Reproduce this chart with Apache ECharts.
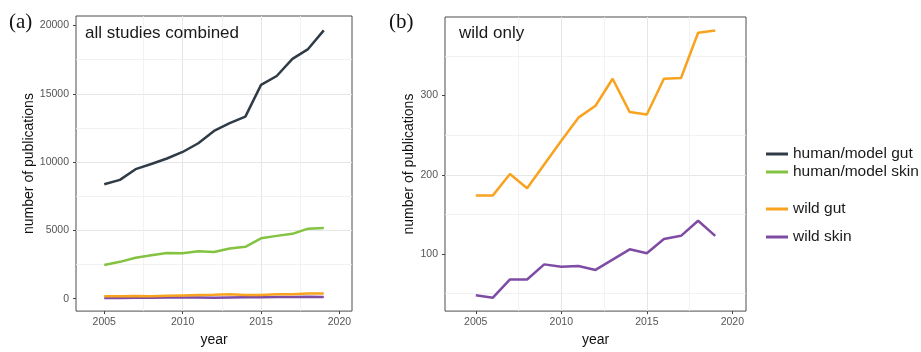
<!DOCTYPE html>
<html>
<head>
<meta charset="utf-8">
<script src="https://cdn.jsdelivr.net/npm/echarts@6/dist/echarts.min.js"></script>
<style>html,body{margin:0;padding:0;background:#fff;}#c{width:921px;height:352px;}</style>
</head>
<body>
<div id="c"></div>
<script>
// ---- data ----
const years = [2005, 2006, 2007, 2008, 2009, 2010, 2011, 2012, 2013, 2014, 2015, 2016, 2017, 2018, 2019];
const humanGut  = [8380, 8700, 9480, 9860, 10260, 10740, 11380, 12280, 12850, 13330, 15650, 16300, 17550, 18270, 19640];
const humanSkin = [2470, 2700, 3000, 3180, 3350, 3330, 3470, 3420, 3680, 3800, 4420, 4600, 4750, 5130, 5180];
const wildGut   = [174, 174, 201, 183, 213, 243, 272, 287, 321, 279, 276, 321, 322, 379, 382];
const wildSkin  = [48, 45, 68, 68, 87, 84, 85, 80, 93, 106, 101, 119, 123, 142, 123];
const xTicks = [2005, 2010, 2015, 2020];
const yTicksA = [0, 5000, 10000, 15000, 20000];
const yTicksB = [100, 200, 300];
const names = ['human/model gut', 'human/model skin', 'wild gut', 'wild skin'];
const colors = ['#2f3b46', '#84c341', '#f8a31f', '#7e4ca4'];

const pairs = arr => years.map((y, i) => [y, arr[i]]);
const FONT = 'Liberation Sans';

function xAxis(gridIndex) {
  return {
    type: 'value', gridIndex: gridIndex, min: 2003.2, max: 2020.8,
    splitNumber: 4, minInterval: 5, maxInterval: 5,
    name: 'year', nameLocation: 'middle', nameGap: 20,
    nameTextStyle: { fontFamily: FONT, fontSize: 14, color: '#111' },
    axisLine: { show: false, onZero: false },
    axisTick: { show: true, length: 3, customValues: xTicks, lineStyle: { color: '#444' } },
    axisLabel: { customValues: xTicks, margin: 6, fontFamily: FONT, fontSize: 10.5, color: '#555',
      formatter: v => (xTicks.indexOf(v) >= 0 ? String(v) : '') },
    splitLine: { show: true, showMinLine: false, showMaxLine: false, lineStyle: { color: '#e6e6e6', width: 1 } },
    minorTick: { show: false, splitNumber: 2 },
    minorSplitLine: { show: true, lineStyle: { color: '#efefef', width: 0.8 } }
  };
}
function yAxis(gridIndex, min, max, interval, ticks, gap) {
  return {
    type: 'value', gridIndex: gridIndex, min: min, max: max,
    splitNumber: gridIndex === 0 ? 4 : 3, minInterval: interval, maxInterval: interval,
    name: 'number of publications', nameLocation: 'middle', nameGap: gap,
    nameTextStyle: { fontFamily: FONT, fontSize: 14, color: '#111' },
    axisLine: { show: false, onZero: false },
    axisTick: { show: true, length: 3, customValues: ticks, lineStyle: { color: '#444' } },
    axisLabel: { customValues: ticks, margin: 7, fontFamily: FONT, fontSize: 10.5, color: '#555',
      formatter: v => (ticks.indexOf(v) >= 0 ? String(v) : '') },
    splitLine: { show: true, showMinLine: false, showMaxLine: false, lineStyle: { color: '#e6e6e6', width: 1 } },
    minorTick: { show: false, splitNumber: 2 },
    minorSplitLine: { show: true, lineStyle: { color: '#efefef', width: 0.8 } }
  };
}
function line(name, idx, data, gridIndex) {
  return {
    type: 'line', name: name, xAxisIndex: gridIndex, yAxisIndex: gridIndex,
    data: pairs(data), showSymbol: false, symbol: 'none', animation: false,
    lineStyle: { color: colors[idx], width: 2.5 }, itemStyle: { color: colors[idx] }
  };
}
function legend(name, idx, top, left) {
  return {
    data: [name], left: left, top: top, padding: 0, itemWidth: 22, itemHeight: 3, icon: 'rect',
    selectedMode: false,
    textStyle: { fontFamily: FONT, fontSize: 15.5, color: '#1a1a1a', lineHeight: 18 }
  };
}

const chart = echarts.init(document.getElementById('c'), null, { renderer: 'canvas' });
chart.setOption({
  backgroundColor: '#ffffff',
  animation: false,
  title: [
    { text: '(a)', left: 9, top: 12, padding: 0, textStyle: { fontFamily: 'Liberation Serif', fontSize: 21, fontWeight: 'normal', color: '#111' } },
    { text: 'all studies combined', left: 85, top: 25, padding: 0, textStyle: { fontFamily: FONT, fontSize: 17, fontWeight: 'normal', color: '#1a1a1a' } },
    { text: '(b)', left: 389, top: 12, padding: 0, textStyle: { fontFamily: 'Liberation Serif', fontSize: 21, fontWeight: 'normal', color: '#111' } },
    { text: 'wild only', left: 459, top: 25, padding: 0, textStyle: { fontFamily: FONT, fontSize: 17, fontWeight: 'normal', color: '#1a1a1a' } }
  ],
  legend: [
    legend(names[0], 0, 145, 766),
    legend(names[1], 1, 163, 766),
    legend(names[2], 2, 200, 766),
    legend(names[3], 3, 228, 766)
  ],
  grid: [
    { left: 76, top: 16, width: 276, height: 303, show: true, borderColor: '#4d4d4d', borderWidth: 1, backgroundColor: 'transparent' },
    { left: 445, top: 17, width: 301, height: 304, show: true, borderColor: '#4d4d4d', borderWidth: 1, backgroundColor: 'transparent' }
  ],
  xAxis: [xAxis(0), xAxis(1)],
  yAxis: [
    yAxis(0, -905, 20690, 5000, yTicksA, 33),
    yAxis(1, 28.1, 398.9, 100, yTicksB, 25)
  ],
  series: [
    line(names[0], 0, humanGut, 0),
    line(names[1], 1, humanSkin, 0),
    line(names[3], 3, wildSkin, 0),
    line(names[2], 2, wildGut, 0),
    line(names[2], 2, wildGut, 1),
    line(names[3], 3, wildSkin, 1)
  ]
});
</script>
</body>
</html>
